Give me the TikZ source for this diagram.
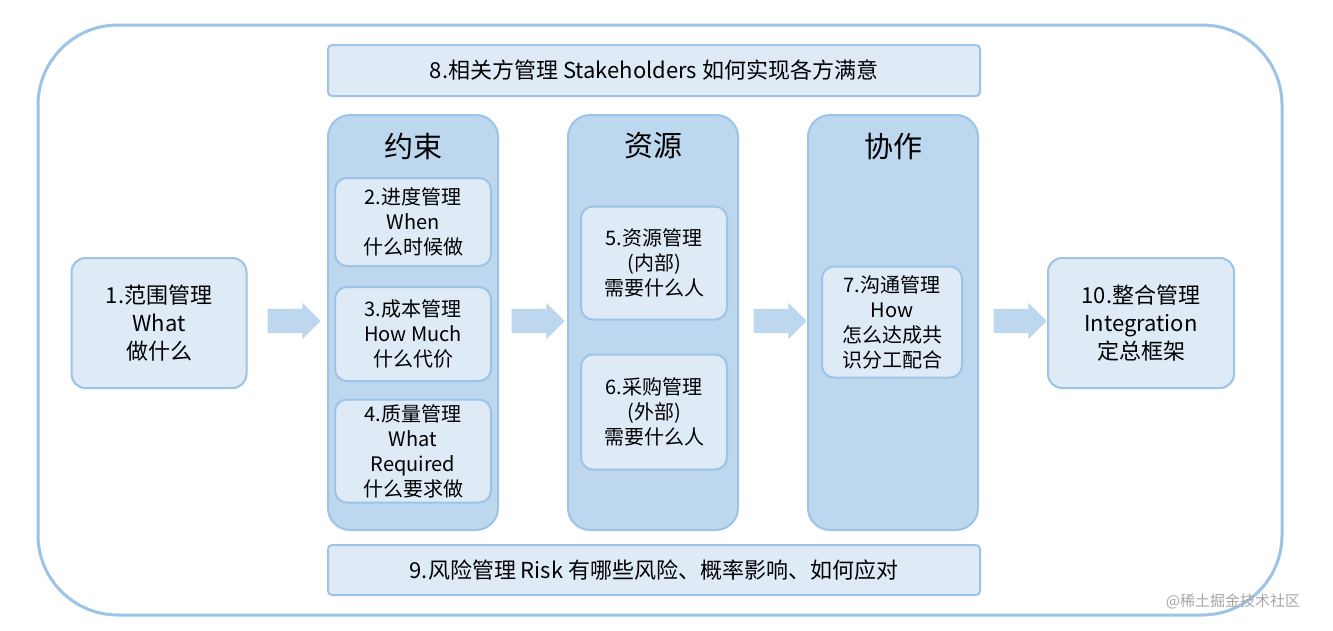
\documentclass[tikz,border=0pt]{standalone}
\usepackage{fontspec}
\setmainfont{Noto Sans CJK SC}
\usetikzlibrary{shapes.arrows}
\definecolor{edge}{HTML}{9DC3E6}
\definecolor{light}{HTML}{DEEBF7}
\definecolor{mid}{HTML}{BDD7EE}
\tikzset{
  px/.style={x=1pt,y=-1pt},
  bar/.style={draw=edge,fill=light,line width=2pt,rounded corners=4pt},
  bartext/.style={font=\fontsize{22}{26}\selectfont},
  col/.style={draw=edge,fill=mid,line width=2pt,rounded corners=22pt},
  inbox/.style={draw=edge,fill=light,line width=2pt,rounded corners=12pt,align=center,font=\fontsize{20}{25}\selectfont},
  sidebox/.style={draw=edge,fill=light,line width=2pt,rounded corners=14pt,align=center,font=\fontsize{22}{28}\selectfont},
  ttl/.style={font=\fontsize{29}{32}\selectfont},
  barrow/.style={single arrow,fill=mid,draw=none,minimum height=53pt,minimum width=36pt,single arrow head extend=6pt,single arrow tip angle=90,inner sep=0pt,inner ysep=12pt}
}
\begin{document}
\begin{tikzpicture}[px]
\useasboundingbox (0,0) rectangle (1333,630);
\draw[edge,line width=3pt,fill=white,rounded corners=80pt] (38,25) rectangle (1282,615);
\path[bar] (328,45) rectangle (980,96);
\node[bartext] (top) at (654,70) {8.相关方管理 Stakeholders 如何实现各方满意};
\path[bar] (328,545) rectangle (980,595);
\node[bartext] (bot) at (654,570) {9.风险管理 Risk 有哪些风险、概率影响、如何应对};
% columns
\path[col] (328,115) rectangle (498,530);
\path[col] (568,115) rectangle (738,530);
\path[col] (808,115) rectangle (978,530);
\node[ttl] (c1) at (413,146) {约束};
\node[ttl] (c2) at (653,146) {资源};
\node[ttl] (c3) at (893,146) {协作};
% inner boxes
\node[inbox,minimum width=156pt,minimum height=88pt] (b2) at (413,222) {2.进度管理\\When\\什么时候做};
\node[inbox,minimum width=156pt,minimum height=94pt] (b3) at (413,334) {3.成本管理\\How Much\\什么代价};
\node[inbox,minimum width=156pt,minimum height=103pt] (b4) at (413,451) {4.质量管理\\What\\Required\\什么要求做};
\node[inbox,minimum width=146pt,minimum height=113pt] (b5) at (654,263) {5.资源管理\\(内部)\\需要什么人};
\node[inbox,minimum width=146pt,minimum height=115pt] (b6) at (654,412) {6.采购管理\\(外部)\\需要什么人};
\node[inbox,minimum width=140pt,minimum height=111pt] (b7) at (892,322) {7.沟通管理\\How\\怎么达成共\\识分工配合};
\node[sidebox,minimum width=175pt,minimum height=130pt] (b1) at (159,323) {1.范围管理\\What\\做什么};
\node[sidebox,minimum width=186pt,minimum height=130pt] (b10) at (1141,323) {10.整合管理\\Integration\\定总框架};
% arrows
\node[barrow] (a1) at (288,321) {};
\node[barrow] (a2) at (532,321) {};
\node[barrow] (a3) at (774,321) {};
\node[barrow] (a4) at (1014,321) {};
\node[text=gray!70,font=\fontsize{15}{18}\selectfont] (wm) at (1233,601) {@稀土掘金技术社区};
\end{tikzpicture}
\end{document}
